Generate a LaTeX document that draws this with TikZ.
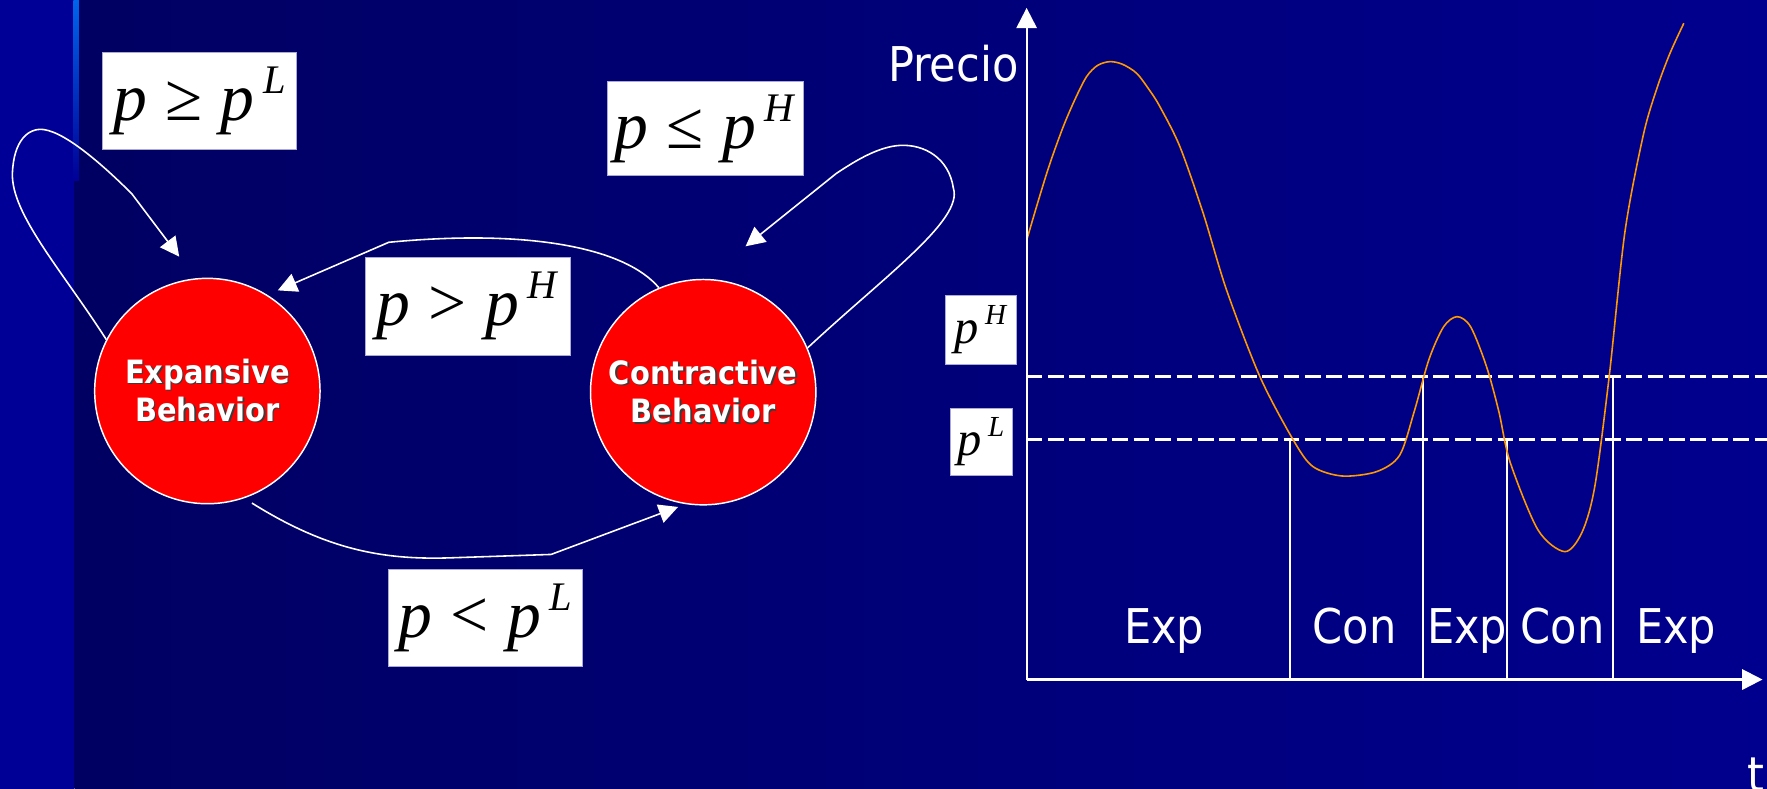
\documentclass[tikz,border=0pt]{standalone}
\usepackage{fontspec}
\usepackage{tikz}
\usetikzlibrary{arrows.meta,positioning,calc}
\newfontfamily\tahoma{DejaVu Sans Condensed}
\newfontfamily\eqfont{Liberation Serif}
\definecolor{slideStrip}{RGB}{0,0,150}
\definecolor{slideDark}{RGB}{0,0,98}
\definecolor{slideBlue}{RGB}{0,0,142}
\definecolor{slideGlow}{RGB}{0,100,235}
\definecolor{stateRed}{RGB}{255,0,0}
\definecolor{textShadow}{RGB}{60,60,60}
\definecolor{boxEdge}{RGB}{170,170,210}
\definecolor{priceOrange}{RGB}{255,153,0}
\newcommand{\shadowtxt}[1]{\makebox[0pt][l]{\hspace*{1.4pt}\raisebox{-1.4pt}{\textcolor{textShadow}{#1}}}#1}
\newcommand{\hisup}[1]{\hspace{0.13em}\raisebox{0.4em}{\scalebox{0.6}{\textit{#1}}}}
\newcommand{\prel}[2]{\textit{p}\hspace{0.27em}#1\hspace{0.27em}\textit{p}\hisup{#2}}

\begin{document}
\begin{tikzpicture}[x=1pt,y=-1pt,
  state/.style={circle,draw=white,line width=1.3pt,fill=stateRed,minimum size=200pt,
                inner sep=0pt,align=center,text=white,
                font=\tahoma\bfseries\fontsize{28.5}{34}\selectfont},
  cond/.style={rectangle,fill=white,draw=boxEdge,line width=0.6pt,inner sep=0pt,
               minimum width=#1,minimum height=86pt,font=\eqfont\fontsize{60}{70}\selectfont},
  level/.style={rectangle,fill=white,draw=boxEdge,line width=0.6pt,inner sep=0pt,
                minimum width=#1,minimum height=61pt,font=\eqfont\fontsize{43}{50}\selectfont},
  arrow/.style={-{Triangle[length=17pt,width=17pt]},draw=white,line width=1.4pt},
  axis/.style={-{Triangle[length=18pt,width=18pt]},draw=white,line width=1.9pt},
  guide/.style={draw=white,line width=2pt,dash pattern=on 14pt off 5pt},
  tick/.style={draw=white,line width=1.6pt},
  tag/.style={text=white,anchor=base,inner sep=0pt,font=\tahoma\fontsize{42.5}{50}\selectfont},
  price/.style={draw=priceOrange,line width=1.4pt}
]
% Background
\useasboundingbox (0,0) rectangle (1568,700);
\shade[left color=slideDark,right color=slideBlue] (66,0) rectangle (1568,700);
\fill[slideStrip] (0,0) rectangle (66,700);
\shade[top color=slideGlow,bottom color=slideStrip] (65,0) rectangle (70,160);

% States
\node[state] (exp) at (184,347) {\shadowtxt{Expansive}\\\shadowtxt{Behavior}};
\node[state] (con) at (624,348) {\shadowtxt{Contractive}\\\shadowtxt{Behavior}};

% Transitions
\draw[arrow,shorten >=24pt] (exp.153) .. controls (55,240) and (10,190) .. (11,154)
  .. controls (12,125) and (25,113) .. (39,115)
  .. controls (60,118) and (95,150) .. (117,172) -- (exp.96);
\draw[arrow,shorten >=46pt] (con.23) .. controls (785,245) and (855,195) .. (846,167)
  .. controls (842,140) and (820,128) .. (799,129)
  .. controls (780,130) and (760,142) .. (742,154) -- (con.89);
\draw[arrow,shorten >=10pt] (con.113) .. controls (555,220) and (470,203) .. (345,215) -- (exp.58);
\draw[arrow,shorten <=8pt,shorten >=7pt] (exp.289) .. controls (290,488) and (340,497) .. (400,495)
  -- (489,492) -- (con.261);

% Conditions
\node[cond=172pt] (stayexp) at (177,89.5) {\prel{≥}{L}};
\node[cond=174pt,minimum height=84pt] (staycon) at (626,114) {\prel{≤}{H}};
\node[cond=182pt,minimum height=87pt] (tocon) at (415,271.5) {\prel{>}{H}};
\node[cond=172pt] (toexp) at (431,548) {\prel{<}{L}};

% Price chart
\coordinate (O) at (911,603);
\coordinate (ytop) at (911,7);
\coordinate (xend) at (1564,603);
\draw[guide] (911,334) -- (1568,334);
\draw[guide] (911,390) -- (1568,390);
\foreach \x/\y in {1145/390,1263/334,1337/390,1431/334}
  \draw[tick] (\x,\y) -- (\x,603);
\draw[price] plot[smooth,tension=0.5] coordinates {
  (911.5,211.5) (922,176) (931.7,145) (943.5,112.4) (954,88) (964.2,68) (974,58)
  (984.9,54.7) (996,57) (1008.6,65) (1020,80) (1029.3,94.7) (1047,130.1) (1067.7,189.3)
  (1088.4,257.3) (1118,334.2) (1147.6,390.4) (1165,414) (1191,422.4) (1221.6,418.5)
  (1242,404) (1255,365) (1268,319) (1281,290) (1293,281) (1305,290) (1319,325)
  (1330,365) (1340,410) (1364.8,470.3) (1388.6,489.5) (1404,472) (1415.3,431)
  (1428,333.6) (1441.9,205.9) (1458.1,120.4) (1470,79.2) (1481.8,47.5) (1494.2,20.6)};
\draw[axis] (O) -- (ytop);
\draw[axis] (O) -- (xend);
\node[tag,anchor=base east] (precio) at (904,72.5) {Precio};
\node[tag] (tlab) at (1558,702) {t};
\node[level=63pt] (pH) at (870.5,292.5) {\textit{p}\hisup{H}};
\node[level=55pt,minimum height=60pt] (pL) at (870.5,392) {\textit{p}\hisup{L}};
\foreach \x/\lab/\nm in {1033/Exp/seg1,1202/Con/seg2,1302/Exp/seg3,1386.5/Con/seg4,1487.5/Exp/seg5}
  \node[tag] (\nm) at (\x,570.6) {\lab};
\end{tikzpicture}
\end{document}
